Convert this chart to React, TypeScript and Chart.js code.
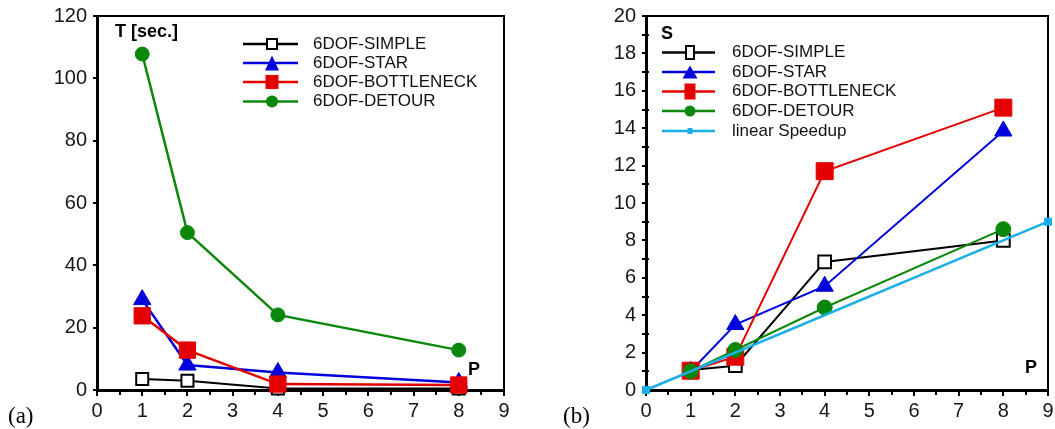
import React, { useEffect, useRef } from "react";
import { Chart, registerables } from "chart.js";

Chart.register(...registerables);

// ---------------- data ----------------
const processors = [1, 2, 4, 8];
const seriesNames = ["6DOF-SIMPLE", "6DOF-STAR", "6DOF-BOTTLENECK", "6DOF-DETOUR"];
const linearName = "linear Speedup";

// (a) run time T [sec.]
const timeSimple = [3.5, 3.0, 0.5, 0.5];
const timeStar = [29.0, 8.0, 5.6, 2.4];
const timeBottleneck = [23.8, 12.8, 1.9, 1.6];
const timeDetour = [107.8, 50.5, 24.1, 12.8];

// (b) speedup S
const speedSimple = [1.07, 1.3, 6.85, 8.0];
const speedStar = [1.0, 3.5, 5.55, 13.85];
const speedBottleneck = [1.03, 1.78, 11.7, 15.1];
const speedDetour = [1.0, 2.14, 4.41, 8.6];
const linearX = [0, 9];
const linearY = [0, 9];

// ticks
const xTicks = [0, 1, 2, 3, 4, 5, 6, 7, 8, 9];
const timeTicks = [0, 20, 40, 60, 80, 100, 120];
const speedTicks = [0, 2, 4, 6, 8, 10, 12, 14, 16, 18, 20];
const xMinorTicks = [0.5, 1.5, 2.5, 3.5, 4.5, 5.5, 6.5, 7.5, 8.5];
const speedMinorTicks = [1, 3, 5, 7, 9, 11, 13, 15, 17, 19];

// ---------------- styles ----------------
const FONT = "'Liberation Sans', Arial, Helvetica, sans-serif";
const SERIF = "'Liberation Serif', 'Times New Roman', serif";
const BLACK = "#000000";
const BLUE = "#0000dc";
const RED = "#e40000";
const GREEN = "#0b870b";
const CYAN = "#1aafe6";

type Shape = "rect" | "triangle" | "circle";
interface LegendEntry {
  label: string;
  color: string;
  shape: Shape;
  w: number;
  h: number;
  hollow?: boolean;
  lineWidth: number;
}
interface Decor {
  legend: LegendEntry[];
  lineFrom: number;
  lineTo: number;
  markerX: number;
  textX: number;
  rowsY: number[];
  yTitle: { text: string; x: number; y: number };
  pTitle: { x: number; y: number };
  panel: { text: string; x: number; y: number };
  xMinor: number[];
  yMinor: number[];
}

function drawMarker(
  ctx: CanvasRenderingContext2D,
  shape: Shape,
  x: number,
  y: number,
  w: number,
  h: number,
  color: string,
  hollow?: boolean
) {
  ctx.beginPath();
  if (shape === "rect") ctx.rect(x - w / 2, y - h / 2, w, h);
  else if (shape === "triangle") {
    ctx.moveTo(x, y - h / 2);
    ctx.lineTo(x + w / 2, y + h / 2);
    ctx.lineTo(x - w / 2, y + h / 2);
    ctx.closePath();
  } else ctx.arc(x, y, w / 2, 0, Math.PI * 2);
  if (hollow) {
    ctx.fillStyle = "#ffffff";
    ctx.fill();
    ctx.lineWidth = 2;
    ctx.strokeStyle = color;
    ctx.stroke();
  } else {
    ctx.fillStyle = color;
    ctx.fill();
  }
}

function makeDecorPlugin(d: Decor) {
  return {
    id: "decor",
    beforeDatasetsDraw(chart: any) {
      const ctx: CanvasRenderingContext2D = chart.ctx;
      const a = chart.chartArea;
      const xs = chart.scales.x;
      const ys = chart.scales.y;
      ctx.save();
      // top & right frame
      ctx.strokeStyle = BLACK;
      ctx.lineWidth = 2;
      ctx.beginPath();
      ctx.moveTo(a.left, a.top);
      ctx.lineTo(a.right, a.top);
      ctx.lineTo(a.right, a.bottom);
      ctx.stroke();
      // minor ticks
      ctx.lineWidth = 2;
      ctx.beginPath();
      d.xMinor.forEach((v) => {
        const px = Math.round(xs.getPixelForValue(v));
        ctx.moveTo(px, a.bottom);
        ctx.lineTo(px, a.bottom + 5);
      });
      d.yMinor.forEach((v) => {
        const py = Math.round(ys.getPixelForValue(v));
        ctx.moveTo(a.left - 4, py);
        ctx.lineTo(a.left + 3, py);
      });
      ctx.stroke();
      ctx.restore();
    },
    afterDraw(chart: any) {
      const ctx: CanvasRenderingContext2D = chart.ctx;
      ctx.save();
      // legend
      d.legend.forEach((e, i) => {
        const y = d.rowsY[i];
        ctx.strokeStyle = e.color;
        ctx.lineWidth = e.lineWidth;
        ctx.beginPath();
        ctx.moveTo(d.lineFrom, y);
        ctx.lineTo(d.lineTo, y);
        ctx.stroke();
        drawMarker(ctx, e.shape, d.markerX, y, e.w, e.h, e.color, e.hollow);
        ctx.fillStyle = "#111111";
        ctx.font = `17px ${FONT}`;
        ctx.textAlign = "left";
        ctx.textBaseline = "alphabetic";
        ctx.fillText(e.label, d.textX, y + 4.5);
      });
      // axis titles
      ctx.fillStyle = "#000000";
      ctx.font = `bold 18px ${FONT}`;
      ctx.textAlign = "left";
      ctx.textBaseline = "alphabetic";
      ctx.fillText(d.yTitle.text, d.yTitle.x, d.yTitle.y);
      ctx.fillText("P", d.pTitle.x, d.pTitle.y);
      // panel label
      ctx.font = `23px ${SERIF}`;
      ctx.fillText(d.panel.text, d.panel.x, d.panel.y);
      ctx.restore();
    },
  };
}

function scaleOpts(
  min: number,
  max: number,
  ticks: number[],
  axis: "x" | "y",
  size: number
) {
  return {
    type: "linear" as const,
    min,
    max,
    afterBuildTicks: (s: any) => {
      s.ticks = ticks.map((v) => ({ value: v }));
    },
    afterFit: (s: any) => {
      if (axis === "x") {
        s.height = size;
        s.paddingLeft = 0;
        s.paddingRight = 0;
      } else {
        s.width = size;
        s.paddingTop = 0;
        s.paddingBottom = 0;
      }
    },
    ticks: {
      font: { family: FONT, size: 20 },
      color: "#161616",
      padding: axis === "x" ? 3 : 6,
      maxRotation: 0,
      autoSkip: false,
      callback: (v: any) => String(v),
    },
    grid: {
      drawOnChartArea: false,
      drawTicks: true,
      tickLength: axis === "x" ? 6 : 4,
      color: BLACK,
      lineWidth: 2,
    },
    border: { display: true, color: BLACK, width: 3 },
  };
}

function pts(xs: number[], ys: number[]) {
  return xs.map((x, i) => ({ x, y: ys[i] }));
}

function ChartCanvas({ config, left, width }: { config: any; left: number; width: number }) {
  const ref = useRef<HTMLCanvasElement | null>(null);
  useEffect(() => {
    if (!ref.current) return;
    const chart = new Chart(ref.current, config);
    return () => chart.destroy();
  }, [config]);
  return (
    <canvas
      ref={ref}
      width={width}
      height={429}
      style={{ position: "absolute", left, top: 0, width, height: 429 }}
    />
  );
}

const baseOptions = {
  responsive: false,
  animation: false,
  devicePixelRatio: 1,
  events: [],
  plugins: { legend: { display: false }, tooltip: { enabled: false } },
};

function lineDs(
  label: string,
  data: any[],
  color: string,
  shape: Shape,
  radius: number,
  width: number,
  order: number,
  hollow?: boolean
) {
  return {
    label,
    data,
    borderColor: color,
    backgroundColor: color,
    borderWidth: width,
    pointStyle: shape,
    pointRadius: radius,
    pointBackgroundColor: hollow ? "#ffffff" : color,
    pointBorderColor: color,
    pointBorderWidth: hollow ? 2 : 1,
    tension: 0,
    clip: false,
    order,
  };
}

const leftConfig = {
  type: "line",
  data: {
    datasets: [
      lineDs(seriesNames[0], pts(processors, timeSimple), BLACK, "rect", 8.5, 2, 4, true),
      lineDs(seriesNames[1], pts(processors, timeStar), BLUE, "triangle", 10, 2.5, 3),
      lineDs(seriesNames[2], pts(processors, timeBottleneck), RED, "rect", 11.5, 2.5, 2),
      lineDs(seriesNames[3], pts(processors, timeDetour), GREEN, "circle", 7, 2.5, 1),
    ],
  },
  options: {
    ...baseOptions,
    layout: { padding: { left: 0, right: 21, top: 16, bottom: 0 } },
    scales: {
      x: scaleOpts(0, 9, xTicks, "x", 39),
      y: scaleOpts(0, 120, timeTicks, "y", 97),
    },
  },
  plugins: [
    makeDecorPlugin({
      legend: [
        { label: seriesNames[0], color: BLACK, shape: "rect", w: 10, h: 10, hollow: true, lineWidth: 2.5 },
        { label: seriesNames[1], color: BLUE, shape: "triangle", w: 14, h: 15, lineWidth: 2.5 },
        { label: seriesNames[2], color: RED, shape: "rect", w: 13, h: 14, lineWidth: 2.5 },
        { label: seriesNames[3], color: GREEN, shape: "circle", w: 12, h: 12, lineWidth: 2.5 },
      ],
      lineFrom: 243,
      lineTo: 298,
      markerX: 272,
      textX: 313,
      rowsY: [44, 63, 82, 101.5],
      yTitle: { text: "T [sec.]", x: 115, y: 36.5 },
      pTitle: { x: 468, y: 375 },
      panel: { text: "(a)", x: 8, y: 423 },
      xMinor: xMinorTicks,
      yMinor: [],
    }),
  ],
};

const rightConfig = {
  type: "line",
  data: {
    datasets: [
      lineDs(seriesNames[0], pts(processors, speedSimple), BLACK, "rect", 9, 2, 5, true),
      lineDs(seriesNames[1], pts(processors, speedStar), BLUE, "triangle", 10, 2, 4),
      lineDs(seriesNames[2], pts(processors, speedBottleneck), RED, "rect", 12, 2, 3),
      lineDs(seriesNames[3], pts(processors, speedDetour), GREEN, "circle", 7.5, 2, 2),
      lineDs(linearName, pts(linearX, linearY), CYAN, "rect", 5, 2.5, 1),
    ],
  },
  options: {
    ...baseOptions,
    layout: { padding: { left: 0, right: 27, top: 16, bottom: 0 } },
    scales: {
      x: scaleOpts(0, 9, xTicks, "x", 39),
      y: scaleOpts(0, 20, speedTicks, "y", 116),
    },
  },
  plugins: [
    makeDecorPlugin({
      legend: [
        { label: seriesNames[0], color: BLACK, shape: "rect", w: 8, h: 13, hollow: true, lineWidth: 2.5 },
        { label: seriesNames[1], color: BLUE, shape: "triangle", w: 15, h: 13, lineWidth: 2.5 },
        { label: seriesNames[2], color: RED, shape: "rect", w: 11, h: 16, lineWidth: 2.5 },
        { label: seriesNames[3], color: GREEN, shape: "circle", w: 11, h: 11, lineWidth: 2.5 },
        { label: linearName, color: CYAN, shape: "rect", w: 5, h: 6, lineWidth: 2.5 },
      ],
      lineFrom: 132,
      lineTo: 185,
      markerX: 160,
      textX: 202,
      rowsY: [52.5, 72, 91.5, 111, 131],
      yTitle: { text: "S", x: 131, y: 39 },
      pTitle: { x: 495, y: 373 },
      panel: { text: "(b)", x: 33, y: 423 },
      xMinor: xMinorTicks,
      yMinor: speedMinorTicks,
    }),
  ],
};

export default function App() {
  return (
    <div
      style={{
        position: "absolute",
        left: 0,
        top: 0,
        width: 1055,
        height: 429,
        background: "#ffffff",
        overflow: "hidden",
      }}
    >
      <ChartCanvas config={leftConfig} left={0} width={525} />
      <ChartCanvas config={rightConfig} left={530} width={545} />
    </div>
  );
}
